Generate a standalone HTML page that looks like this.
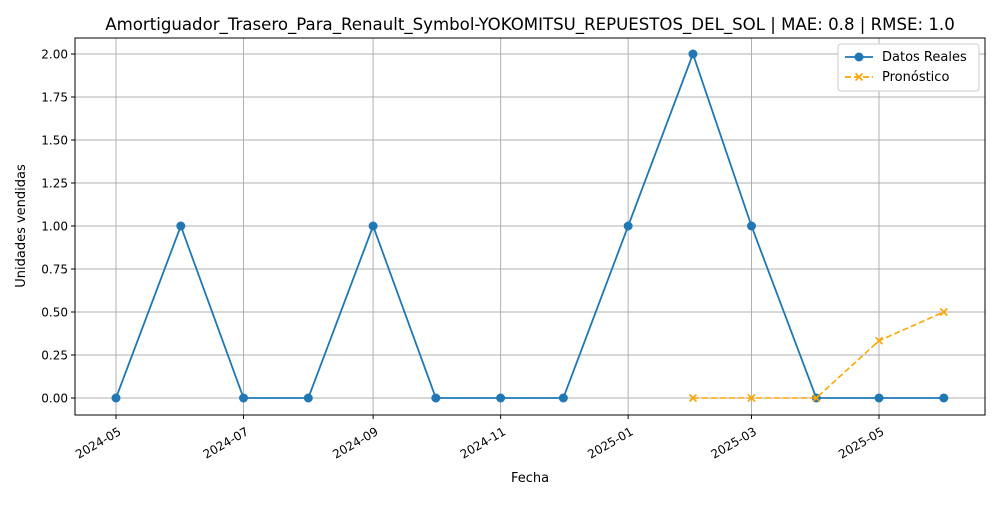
<!DOCTYPE html>
<html><head><meta charset="utf-8"><style>
body{margin:0;background:#fff;font-family:"Liberation Sans","DejaVu Sans",sans-serif;}
</style></head><body>
<svg id="chart" width="1000" height="500" xmlns="http://www.w3.org/2000/svg" font-family="DejaVu Sans, Liberation Sans, sans-serif">
<rect width="1000" height="500" fill="#fff"/>
<g id="grid"></g>
<g id="axes"></g>
<g id="series"></g>
<text x="530" y="30" font-size="16.6" text-anchor="middle">Amortiguador_Trasero_Para_Renault_Symbol-YOKOMITSU_REPUESTOS_DEL_SOL | MAE: 0.8 | RMSE: 1.0</text>
<text x="530" y="482" font-size="13" text-anchor="middle">Fecha</text>
<text x="25" y="226" font-size="13" text-anchor="middle" transform="rotate(-90 25 226)">Unidades vendidas</text>
<g>
<rect x="838" y="44" width="141" height="47" fill="#fff" stroke="#ccc" rx="3"/>
<line x1="845" y1="57" x2="873" y2="57" stroke="#1f77b4" stroke-width="1.8"/>
<circle cx="859" cy="57" r="4.5" fill="#1f77b4"/>
<text x="882" y="61" font-size="13">Datos Reales</text>
<line x1="845" y1="77" x2="873" y2="77" stroke="orange" stroke-width="1.8" stroke-dasharray="6,3"/>
<path d="M855.5 73.5l7 7M862.5 73.5l-7 7" stroke="orange" stroke-width="1.6"/>
<text x="882" y="81" font-size="13">Pronóstico</text>
</g>
</svg>
<script>
const actualDates=["2024-05-01","2024-06-01","2024-07-01","2024-08-01","2024-09-01","2024-10-01","2024-11-01","2024-12-01","2025-01-01","2025-02-01","2025-03-01","2025-04-01","2025-05-01","2025-06-01"];
const actualValues=[0,1,0,0,1,0,0,0,1,2,1,0,0,0];
const forecastDates=["2025-02-01","2025-03-01","2025-04-01","2025-05-01","2025-06-01"];
const forecastValues=[0,0,0,0.333,0.5];
const xTicks=["2024-05","2024-07","2024-09","2024-11","2025-01","2025-03","2025-05"];
const yTicks=[0,0.25,0.5,0.75,1.0,1.25,1.5,1.75,2.0];
const NS="http://www.w3.org/2000/svg";
const L=75,R=985,T=38,B=415;
const d0=Date.parse("2024-05-01"),d1=Date.parse("2025-05-01");
function x(d){return 116+(Date.parse(d.length==7?d+"-01":d)-d0)/(d1-d0)*763;}
function y(v){return 398-v*172;}
function mk(tag,attrs,parent){const e=document.createElementNS(NS,tag);for(const k in attrs)e.setAttribute(k,attrs[k]);document.getElementById(parent).appendChild(e);return e;}
xTicks.forEach(t=>{const X=x(t);
 const g=mk("line",{x1:X,x2:X,y1:T,y2:B,stroke:"#b0b0b0","stroke-width":1},"grid");
 
 
 mk("line",{x1:X,x2:X,y1:B,y2:B+4,stroke:"#000"},"axes");
 const tx=mk("text",{x:X+2,y:B+20,"font-size":12,"text-anchor":"end",transform:`rotate(-30 ${X+2} ${B+12})`},"axes");
 tx.textContent=t;
 
 
});
yTicks.forEach(t=>{const Y=y(t);
 const g=mk("line",{x1:L,x2:R,y1:Y,y2:Y,stroke:"#b0b0b0","stroke-width":1},"grid");
 
 
 mk("line",{x1:L-4,x2:L,y1:Y,y2:Y,stroke:"#000"},"axes");
 const tx=mk("text",{x:L-7,y:Y+4.5,"font-size":12,"text-anchor":"end"},"axes");
 tx.textContent=t.toFixed(2);
 
 
});
const frame=mk("rect",{x:L,y:T,width:R-L,height:B-T,fill:"none",stroke:"#000","stroke-width":1},"axes");


const ap=mk("polyline",{points:actualDates.map((d,i)=>x(d)+","+y(actualValues[i])).join(" "),fill:"none",stroke:"#1f77b4","stroke-width":1.8},"series");


actualDates.forEach((d,i)=>{const c=mk("circle",{cx:x(d),cy:y(actualValues[i]),r:4.5,fill:"#1f77b4"},"series");
 
 });
const fp=mk("polyline",{points:forecastDates.map((d,i)=>x(d)+","+y(forecastValues[i])).join(" "),fill:"none",stroke:"orange","stroke-width":1.6,"stroke-dasharray":"6,3"},"series");


forecastDates.forEach((d,i)=>{const X=x(d),Y=y(forecastValues[i]);
 const m=mk("path",{d:`M${X-3.5} ${Y-3.5}l7 7M${X+3.5} ${Y-3.5}l-7 7`,stroke:"orange","stroke-width":1.6},"series");
 
 });
</script>
</body></html>
